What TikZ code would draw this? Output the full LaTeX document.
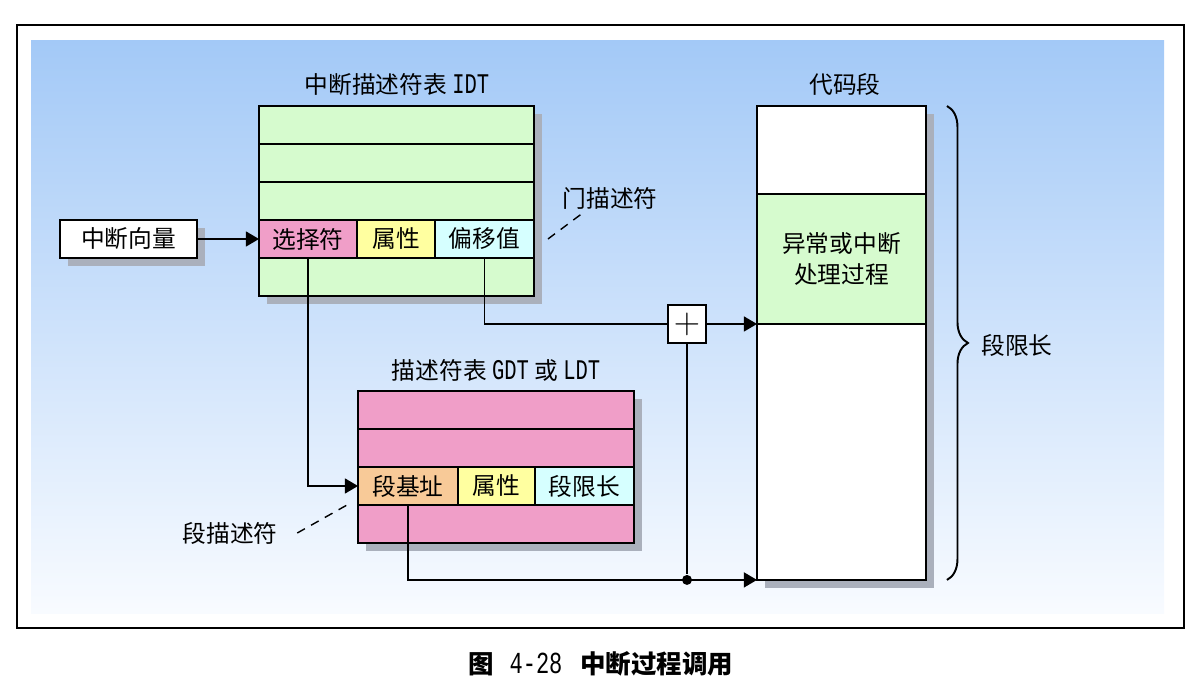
\documentclass[tikz,border=0pt]{standalone}
\usepackage{fontspec}
\setmainfont{Noto Sans CJK SC}
\newfontfamily\latin[Scale=1.2,FakeStretch=0.72]{Liberation Mono}
\usepackage{tikz}
\usetikzlibrary{arrows.meta,positioning,calc,shadows,decorations.pathreplacing}
\usepackage{xcolor}
\definecolor{bgtop}{RGB}{163,201,247}
\definecolor{bgbot}{RGB}{248,251,255}
\definecolor{idtgreen}{RGB}{214,251,206}
\definecolor{gdtpink}{RGB}{240,158,200}
\definecolor{attryellow}{RGB}{255,255,160}
\definecolor{offcyan}{RGB}{214,255,255}
\definecolor{baseorange}{RGB}{248,202,152}
\definecolor{shadowgray}{RGB}{170,176,188}

\begin{document}
\begin{tikzpicture}[x=0.02cm, y=-0.02cm, >={Triangle[length=7.5pt,width=8.5pt]}, line width=1.1pt,
    font=\fontsize{13.5}{18}\selectfont,
    shadowed/.style={drop shadow={shadow xshift=0.16cm, shadow yshift=-0.16cm, fill=shadowgray, opacity=1}},
    cell/.style={draw, shadowed, inner sep=0pt, outer sep=0pt, minimum height=0.76cm},
    idtrow/.style={cell, fill=idtgreen, minimum width=5.5cm},
    gdtrow/.style={cell, fill=gdtpink, minimum width=5.52cm},
    codebox/.style={cell, minimum width=3.38cm},
    leader/.style={line width=0.8pt, dash pattern=on 5pt off 4pt},
    dot/.style={circle, fill, inner sep=0pt, minimum size=0.2cm}]
    \useasboundingbox (0,0) rectangle (1196,684);

    % Frame and background
    \draw (17,25) rectangle (1184,628);
    \shade[top color=bgtop, bottom color=bgbot] (31,40) rectangle (1164,613);

    % IDT
    \node (idtlbl) at (397,85) {中断描述符表 {\latin IDT}};
    \node[idtrow] (i1) at (396.5,125) {};
    \node[idtrow, below=0pt of i1] (i2) {};
    \node[idtrow, below=0pt of i2] (i3) {};
    \node[cell, fill=gdtpink, minimum width=1.96cm, below right=0pt and 0pt of i3.south west] (sel) {选择符};
    \node[cell, fill=attryellow, minimum width=1.56cm, right=0pt of sel] (attr1) {属性};
    \node[cell, fill=offcyan, minimum width=1.98cm, right=0pt of attr1] (off) {偏移值};
    \node[idtrow, below right=0pt and 0pt of sel.south west] (i5) {};
    \node (gate) at (610,198) {门描述符};

    \node[cell, fill=white, minimum width=2.74cm] (vec) at (128.5,239) {中断向量};

    % GDT or LDT
    \node (gdtlbl) at (496,370) {描述符表 {\latin GDT} 或 {\latin LDT}};
    \node[gdtrow] (g1) at (496,410) {};
    \node[gdtrow, below=0pt of g1] (g2) {};
    \node[cell, fill=baseorange, minimum width=2cm, below right=0pt and 0pt of g2.south west] (base) {段基址};
    \node[cell, fill=attryellow, minimum width=1.54cm, right=0pt of base] (attr2) {属性};
    \node[cell, fill=offcyan, minimum width=1.98cm, right=0pt of attr2] (lim) {段限长};
    \node[gdtrow, below right=0pt and 0pt of base.south west] (g4) {};
    \node (seglbl) at (230,533) {段描述符};

    % Code segment
    \node (codelbl) at (845,84) {代码段};
    \node[codebox, fill=white, minimum height=1.76cm] (ctop) at (841.5,150) {};
    \node[codebox, fill=idtgreen, minimum height=2.6cm, align=center, below=0pt of ctop] (cmid) {异常或中断\\处理过程};
    \node[codebox, fill=white, minimum height=5.12cm, below=0pt of cmid] (cbot) {};
    \node (limlbl) at (1017,345) {段限长};

    \node[draw, fill=white, minimum size=0.76cm, inner sep=0pt] (plus) at (687,324) {\huge$+$};
    \node[dot] (join) at (plus |- cbot.south west) {};

    % Arrows
    \draw[->] (vec) -- (sel);
    \draw[->] (sel.south) |- (base);
    \draw (off.south) |- (plus);
    \draw[->] (plus) -- (cbot.north west);
    \draw[->] (base.south) |- (cbot.south west);
    \draw (join) -- (plus);
    \draw[leader] ([xshift=0.28cm]off.east) -- ([xshift=0.6cm,yshift=0.1cm]gate.south west);
    \draw[leader] ([xshift=0.26cm]seglbl.east) -- ([xshift=-0.22cm]base.south west);
    \draw[decorate, decoration={brace, amplitude=0.42cm}] ([xshift=0.42cm]ctop.north east) -- ([xshift=0.42cm]cbot.south east);

    % Caption
    \node (caption) at (601,664) {\fontsize{14.5}{17}\selectfont\bfseries 图\hspace{0.6em}{\mdseries\latin 4-28}\hspace{0.7em}中断过程调用};
\end{tikzpicture}
\end{document}
